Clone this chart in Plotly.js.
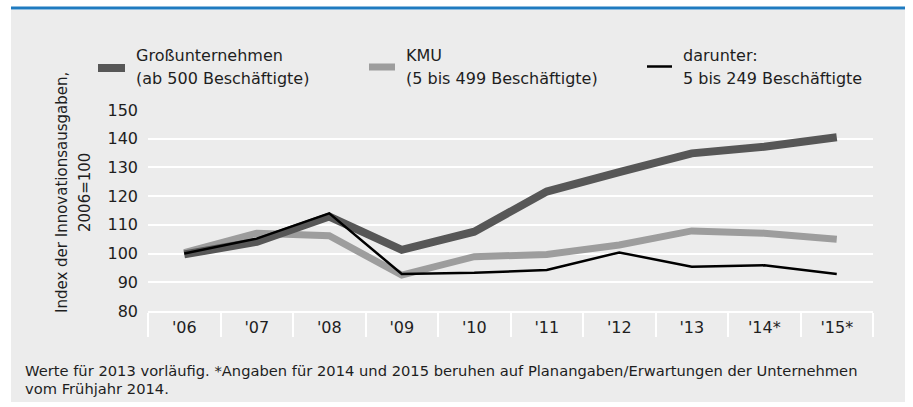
<!DOCTYPE html>
<html>
<head>
<meta charset="utf-8">
<script src="https://cdn.plot.ly/plotly-3.0.1.min.js"></script>
<style>html,body{margin:0;padding:0;background:#fff;}#chart{width:913px;height:407px;}</style>
</head>
<body>
<div id="chart"></div>
<script>
var categories = ["'06", "'07", "'08", "'09", "'10", "'11", "'12", "'13", "'14*", "'15*"];
var grossValues = [99.7, 104.1, 112.9, 101.3, 107.6, 121.6, 128.4, 134.9, 137.2, 140.5];
var kmuValues = [100.3, 107.1, 106.2, 92.5, 98.9, 99.7, 103.0, 107.9, 107.1, 105.0];
var darunterValues = [100.0, 105.2, 114.0, 92.9, 93.3, 94.3, 100.4, 95.4, 95.9, 92.9];
var legendLine1 = ["Großunternehmen", "KMU", "darunter:"];
var legendLine2 = ["(ab 500 Beschäftigte)", "(5 bis 499 Beschäftigte)", "5 bis 249 Beschäftigte"];
var yTickValues = [80, 90, 100, 110, 120, 130, 140, 150];
var footnoteLines = ["Werte für 2013 vorläufig. *Angaben für 2014 und 2015 beruhen auf Planangaben/Erwartungen der Unternehmen", "vom Frühjahr 2014."];
var yTitleLines = ["Index der Innovationsausgaben,", "2006=100"];

var W = 913, H = 407;
var L = 148, R = 40, T = 110, B = 96;
var pw = W - L - R, ph = H - T - B;
function px(x) { return (x - L) / pw; }
function py(y) { return (H - B - y) / ph; }

var FONT = "DejaVu Sans";
var TXT = "#1e1e1e";
var colors = ["#575757", "#9d9d9d", "#000000"];
var widths = [8, 7, 2.5];

var traces = [
  {x: categories, y: kmuValues, name: legendLine1[1], type: "scatter", mode: "lines",
   line: {color: colors[1], width: widths[1]}, hoverinfo: "skip"},
  {x: categories, y: grossValues, name: legendLine1[0], type: "scatter", mode: "lines",
   line: {color: colors[0], width: widths[0]}, hoverinfo: "skip"},
  {x: categories, y: darunterValues, name: legendLine1[2], type: "scatter", mode: "lines",
   line: {color: colors[2], width: widths[2]}, hoverinfo: "skip"}
];

// legend drawn with shapes + annotations (layout positions)
var legSwatchX = [[98, 125], [369, 395], [647, 672]];
var legSwatchY = [68, 67, 66.5];
var legTextX = [134, 404, 681];

var shapes = [
  {type: "rect", xref: "paper", yref: "paper", x0: px(11), x1: px(905), y0: py(402), y1: py(10),
   fillcolor: "#ececec", line: {width: 0}, layer: "below"},
  {type: "line", xref: "paper", yref: "paper", x0: px(11), x1: px(905), y0: py(8), y1: py(8),
   line: {color: "#1f7bc0", width: 3}, layer: "above"}
];
var annotations = [
  {xref: "paper", yref: "paper", x: px(62), y: py(193), text: yTitleLines[0], textangle: -90,
   showarrow: false, xanchor: "center", yanchor: "middle", font: {family: FONT, size: 15, color: TXT}},
  {xref: "paper", yref: "paper", x: px(85), y: py(193), text: yTitleLines[1], textangle: -90,
   showarrow: false, xanchor: "center", yanchor: "middle", font: {family: FONT, size: 15, color: TXT}},
  {xref: "paper", yref: "paper", x: px(23), y: py(370), text: footnoteLines[0], align: "left",
   showarrow: false, xanchor: "left", yanchor: "middle", font: {family: FONT, size: 14.7, color: TXT}},
  {xref: "paper", yref: "paper", x: px(23), y: py(388), text: footnoteLines[1], align: "left",
   showarrow: false, xanchor: "left", yanchor: "middle", font: {family: FONT, size: 14.7, color: TXT}}
];
for (var i = 0; i < 3; i++) {
  shapes.push({type: "line", xref: "paper", yref: "paper",
    x0: px(legSwatchX[i][0]), x1: px(legSwatchX[i][1]), y0: py(legSwatchY[i]), y1: py(legSwatchY[i]),
    line: {color: colors[i], width: widths[i]}, layer: "above"});
  annotations.push({xref: "paper", yref: "paper", x: px(legTextX[i]), y: py(55), text: legendLine1[i],
    showarrow: false, xanchor: "left", yanchor: "middle", align: "left", font: {family: FONT, size: 16, color: TXT}});
  annotations.push({xref: "paper", yref: "paper", x: px(legTextX[i]), y: py(78), text: legendLine2[i],
    showarrow: false, xanchor: "left", yanchor: "middle", align: "left", font: {family: FONT, size: 16, color: TXT}});
}

var layout = {
  width: W, height: H,
  margin: {l: L, r: R, t: T, b: B, pad: 0, autoexpand: false},
  paper_bgcolor: "#ffffff",
  plot_bgcolor: "#ececec",
  showlegend: false,
  xaxis: {
    type: "category", categoryorder: "array", categoryarray: categories,
    range: [-0.5, 9.5], fixedrange: true, automargin: false,
    showgrid: false, zeroline: false,
    showline: true, linecolor: "#ffffff", linewidth: 2,
    ticks: "outside", tickson: "boundaries", ticklen: 24, tickwidth: 2, tickcolor: "#ffffff",
    ticklabelstandoff: 1, tickangle: 0,
    tickfont: {family: FONT, size: 16, color: TXT}
  },
  yaxis: {
    range: [80, 150], fixedrange: true, automargin: false,
    tickvals: yTickValues, ticktext: yTickValues.map(String),
    showgrid: true, gridcolor: "#ffffff", gridwidth: 2,
    zeroline: false, showline: false, ticks: "",
    ticklabelstandoff: 9,
    tickfont: {family: FONT, size: 16, color: TXT}
  },
  shapes: shapes,
  annotations: annotations
};

Plotly.newPlot("chart", traces, layout, {displayModeBar: false, staticPlot: true});
</script>
</body>
</html>
